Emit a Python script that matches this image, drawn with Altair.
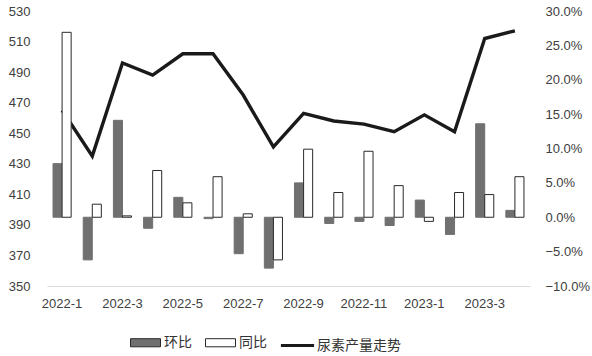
import altair as alt
import pandas as pd

months = ['2022-1', '2022-2', '2022-3', '2022-4', '2022-5', '2022-6', '2022-7', '2022-8',
          '2022-9', '2022-10', '2022-11', '2022-12', '2023-1', '2023-2', '2023-3', '2023-4']
output = [465, 435, 496, 488, 502, 502, 475, 441, 463, 458, 456, 451, 462, 451, 512, 517]
mom = [7.8, -6.2, 14.1, -1.6, 2.9, -0.2, -5.3, -7.4, 5.0, -0.9, -0.6, -1.2, 2.5, -2.5, 13.6, 1.0]
yoy = [26.9, 1.9, 0.2, 6.8, 2.1, 5.9, 0.5, -6.2, 9.9, 3.6, 9.6, 4.6, -0.6, 3.6, 3.3, 5.9]
tick_months = months[::2]
series_names = ['环比', '同比']
line_name = '尿素产量走势'
left_ticks = list(range(350, 531, 20))
right_ticks = [-0.10, -0.05, 0.0, 0.05, 0.10, 0.15, 0.20, 0.25, 0.30]

bars_df = pd.DataFrame(
    [{'month': m, 'series': '环比', 'value': v / 100} for m, v in zip(months, mom)]
    + [{'month': m, 'series': '同比', 'value': v / 100} for m, v in zip(months, yoy)]
)
line_df = pd.DataFrame({'month': months, 'output': output, 'name': line_name})

NUM_FONT = 'Liberation Sans'
CJK_FONT = 'Noto Sans CJK SC'

x_enc = alt.X('month:N', sort=months,
              scale=alt.Scale(paddingInner=0.4, paddingOuter=0.2),
              axis=alt.Axis(values=tick_months, title=None, labelAngle=0, ticks=False,
                            domainColor='#d9d9d9', labelFont=NUM_FONT, labelFontSize=13,
                            labelColor='#404040', labelPadding=11, grid=False))

line = alt.Chart(line_df).mark_line(strokeWidth=3.4, strokeJoin='miter').encode(
    x=x_enc,
    y=alt.Y('output:Q', scale=alt.Scale(domain=[350, 530], nice=False, zero=False),
            axis=alt.Axis(orient='left', values=left_ticks, title=None, grid=False,
                          domain=False, ticks=False, labelPadding=17, labelFont=NUM_FONT,
                          labelFontSize=13, labelColor='#404040')),
    stroke=alt.Stroke('name:N', scale=alt.Scale(domain=[line_name], range=['#1a1a1a']),
                      legend=alt.Legend(orient='none', legendX=232, legendY=316, title=None,
                                        symbolType='stroke', symbolSize=1100,
                                        symbolStrokeWidth=3, labelFont=CJK_FONT,
                                        labelFontSize=14, labelColor='#333333',
                                        labelOffset=1)),
)

bar_legend = alt.Legend(orient='none', legendX=83, legendY=316, direction='horizontal',
                        title=None, symbolType='M-1,-0.27h2v0.54h-2z', symbolSize=900,
                        symbolStrokeWidth=1, symbolStrokeColor='#2a2a2a',
                        labelFont=CJK_FONT, labelFontSize=14,
                        labelColor='#333333', columnPadding=11, labelOffset=3)

bars = alt.Chart(bars_df).mark_bar(strokeWidth=1).encode(
    x=x_enc,
    xOffset=alt.XOffset('series:N', sort=series_names,
                        scale=alt.Scale(paddingInner=0, paddingOuter=0)),
    y=alt.Y('value:Q', scale=alt.Scale(domain=[-0.10, 0.30], nice=False),
            axis=alt.Axis(orient='right', values=right_ticks, format='.1%', title=None,
                          grid=False, domain=False, ticks=False, labelPadding=15,
                          labelFont=NUM_FONT, labelFontSize=13, labelColor='#404040')),
    fill=alt.Fill('series:N', sort=series_names,
                  scale=alt.Scale(domain=series_names, range=['#707070', '#ffffff']),
                  legend=bar_legend),
    stroke=alt.Stroke('series:N', sort=series_names,
                      scale=alt.Scale(domain=series_names, range=['#707070', '#2a2a2a']),
                      legend=None),
)

chart = alt.layer(line, bars).resolve_scale(y='independent', stroke='independent').properties(
    width=483, height=275,
    padding={'left': 47, 'top': 11, 'right': 62, 'bottom': 70},
    autosize=alt.AutoSizeParams(type='none'),
    background='white',
).configure_view(stroke=None)

chart.save('out.html', embed_options={'renderer': 'svg', 'actions': False})
